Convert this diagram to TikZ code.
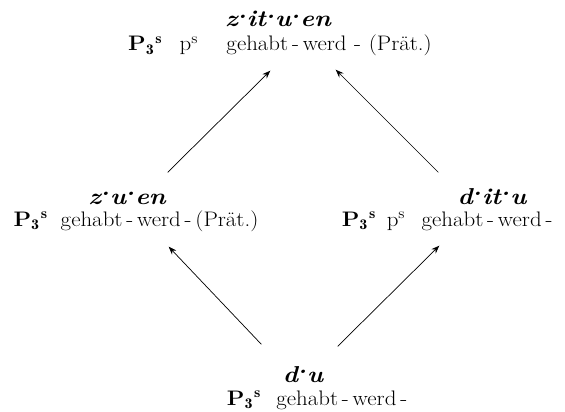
\documentclass[tikz,border=0pt]{standalone}
\usepackage{fontspec}
\usetikzlibrary{arrows.meta}
\newcommand{\hdot}{\raisebox{0.85ex}{.}}
\newcommand{\Pthree}{\textbf{P}$_{\mathbf{3}}$\kern1pt$^{\mathbf{s}}$}
\newcommand{\hy}{\,-\,}
\newcommand{\wt}[1]{\scalebox{1.12}[1]{#1}}
\newcommand{\ws}[1]{\scalebox{1.09}[1]{#1}}
\begin{document}
\begin{tikzpicture}[x=1pt,y=-1pt,
  ttl/.style={font=\fontsize{23}{27}\selectfont\bfseries\itshape, inner sep=0pt, anchor=base},
  sub/.style={font=\fontsize{21}{25}\selectfont, inner sep=0pt, anchor=base},
  arr/.style={-{Stealth[length=8pt,width=6pt]}, line width=0.7pt, shorten >=1pt, shorten <=1pt}]
\useasboundingbox (0,0) rectangle (565,412);
% titles
\node[ttl] (t1) at (278,27) {\wt{z\hdot it\hdot u\hdot en}};
\node[sub] (s1) at (280,51) {\ws{\Pthree\hspace{16pt}p$^{\mathrm{s}}$\hspace{26pt}gehabt\hy werd\,\,-\,\,(Prät.)}};
\node[ttl] (t2) at (127,204) {\wt{z\hdot u\hdot en}};
\node[sub] (s2) at (136,226) {\ws{\Pthree\hspace{12pt}gehabt\hy werd\hy (Prät.)}};
\node[ttl] (t3) at (492,204) {\wt{d\hdot it\hdot u}};
\node[sub] (s3) at (449,226) {\ws{\Pthree\hspace{10pt}p$^{\mathrm{s}}$\hspace{15pt}gehabt\hy werd\hy}};
\node[ttl] (t4) at (303,382) {\wt{d\hdot u}};
\node[sub] (s4) at (319,405) {\ws{\Pthree\hspace{14pt}gehabt\hy werd\hy}};
% arrow ends
\coordinate (a1) at (167,173); \coordinate (b1) at (271,70);
\coordinate (a2) at (439,173); \coordinate (b2) at (335,69);
\coordinate (a3) at (262,345); \coordinate (b3) at (168,246);
\coordinate (a4) at (337,347); \coordinate (b4) at (440,245);
\draw[arr] (a1) -- (b1);
\draw[arr] (a2) -- (b2);
\draw[arr] (a3) -- (b3);
\draw[arr] (a4) -- (b4);
\end{tikzpicture}
\end{document}
